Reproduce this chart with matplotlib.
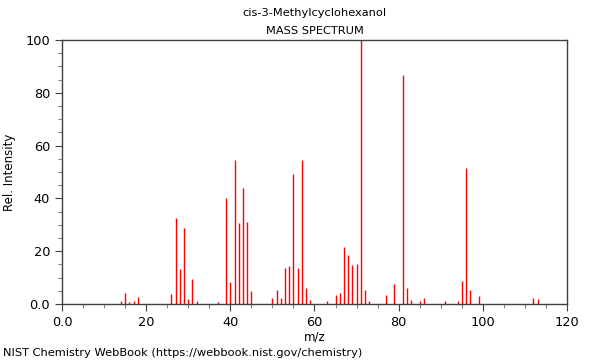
import matplotlib
matplotlib.use('Agg')
import matplotlib.pyplot as plt
from matplotlib.ticker import MultipleLocator

mz = [14, 15, 16, 17, 18, 26, 27, 28, 29, 30, 31, 32, 37, 39, 40, 41, 42, 43,
      44, 45, 50, 51, 52, 53, 54, 55, 56, 57, 58, 59, 63, 65, 66, 67, 68, 69,
      70, 71, 72, 73, 77, 79, 81, 82, 83, 85, 86, 91, 94, 95, 96, 97, 99, 112,
      113]
intensity = [1.0, 4.0, 0.8, 1.0, 2.5, 3.8, 32.6, 13.3, 28.8, 1.9, 9.5, 1.0,
             0.8, 40.2, 8.3, 54.4, 30.7, 43.8, 31.0, 4.9, 2.3, 5.2, 2.1, 13.6,
             14.3, 49.2, 13.6, 54.4, 6.1, 1.5, 1.0, 3.3, 4.0, 21.6, 18.4, 14.9,
             15.0, 100.0, 5.3, 1.3, 3.3, 7.6, 86.8, 5.9, 1.4, 1.2, 2.3, 1.0,
             1.2, 8.6, 51.7, 5.3, 3.0, 2.1, 1.9]

compound = 'cis-3-Methylcyclohexanol'


def fmt(v, pos):
    # only the origin gets a decimal, like the NIST plots
    return '%.1f' % v if v == 0 else '%d' % v


fig = plt.figure(figsize=(6, 3.6), dpi=100)
ax = fig.add_axes([0.1033, 0.1556, 0.8417, 0.7333])

ax.vlines(mz, 0, intensity, color='red', lw=1)

ax.set_xlim(0, 120)
ax.set_ylim(0, 100)
ax.xaxis.set_major_locator(MultipleLocator(20))
ax.xaxis.set_minor_locator(MultipleLocator(5))
ax.yaxis.set_major_locator(MultipleLocator(20))
ax.yaxis.set_minor_locator(MultipleLocator(5))
ax.xaxis.set_major_formatter(fmt)
ax.yaxis.set_major_formatter(fmt)

ax.tick_params(which='major', length=5, width=0.8, color='#404040', labelsize=9.3)
ax.tick_params(which='minor', length=3, width=0.8, color='#808080')
for s in ax.spines.values():
    s.set_color('#404040')
    s.set_linewidth(1)

ax.set_xlabel('m/z', fontsize=8.5, labelpad=1)
ax.set_ylabel('Rel. Intensity', fontsize=8.5, labelpad=7)

fig.text(0.524, 0.963, compound, ha='center', va='center', fontsize=8.2)
fig.text(0.525, 0.913, 'MASS SPECTRUM', ha='center', va='center', fontsize=8.2)
fig.text(0.005, 0.02, 'NIST Chemistry WebBook (https://webbook.nist.gov/chemistry)',
         ha='left', va='center', fontsize=8.2)

fig.savefig('out.png', dpi=100)
plt.close()
